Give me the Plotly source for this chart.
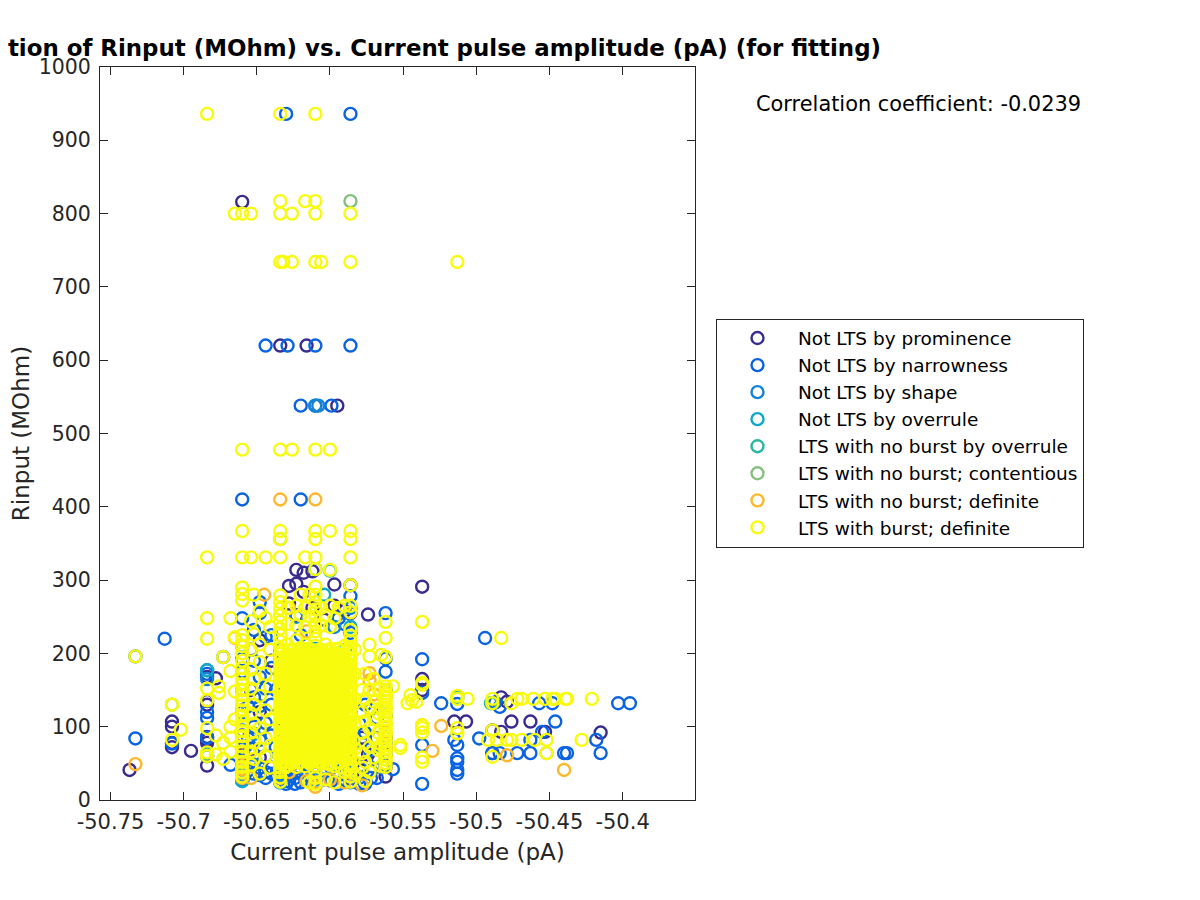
import plotly.graph_objects as go

names = ["Not LTS by prominence", "Not LTS by narrowness", "Not LTS by shape", "Not LTS by overrule",
         "LTS with no burst by overrule", "LTS with no burst; contentious", "LTS with no burst; definite",
         "LTS with burst; definite"]
colors = ["#392c8e", "#0a63e1", "#1484d4", "#0ea9c9", "#2ab7a0", "#85c07f", "#fcb92e", "#f9fb0e"]

# each entry: (current pulse amplitude, [input resistances])
prominence = [
    (-50.737, [41]), (-50.708, [107, 100, 78, 72]), (-50.695, [67]),
    (-50.684, [168, 135, 130, 86, 82, 78, 60, 47]), (-50.678, [166]),
    (-50.660, [816, 122, 88, 62, 36]), (-50.654, [205, 150, 70]), (-50.648, [218, 120, 58]),
    (-50.640, [190, 44]), (-50.634, [620, 160, 95, 30]), (-50.628, [292, 268]),
    (-50.623, [314, 295, 252]), (-50.618, [310, 284]), (-50.616, [620]), (-50.612, [312, 262]),
    (-50.604, [246]), (-50.597, [294, 265]), (-50.595, [538]), (-50.590, [258]),
    (-50.586, [293, 255, 120, 80, 30]), (-50.578, [85, 40]), (-50.574, [253, 62]),
    (-50.562, [150, 85, 70, 45, 32]), (-50.537, [291, 165, 150]),
    (-50.515, [107]), (-50.507, [107]), (-50.489, [95, 64]), (-50.483, [140, 93]), (-50.479, [134]),
    (-50.476, [107]), (-50.463, [107]), (-50.453, [93]), (-50.415, [92]),
]
narrowness = [
    (-50.733, [196, 84]), (-50.713, [220]), (-50.708, [77]), (-50.684, [172, 120, 112, 85]),
    (-50.673, [195]), (-50.668, [48]),
    (-50.660, [410, 248, 210, 192, 175, 150, 120, 95, 70, 50, 34, 26]),
    (-50.656, [128, 84, 40]),
    (-50.652, [232, 190, 140, 100, 62, 36]), (-50.648, [270, 255, 168, 128, 82, 44, 34]),
    (-50.644, [620, 222, 152, 105, 60, 38, 30]), (-50.640, [225, 180, 130, 88, 36]),
    (-50.637, [150, 72, 34]),
    (-50.634, [204, 190, 40, 30, 24]), (-50.630, [936, 34, 22]), (-50.629, [620, 36, 26]), (-50.624, [42, 30, 22]),
    (-50.620, [538, 410, 225, 38, 24]), (-50.615, [200, 48, 34]), (-50.610, [620, 538, 36, 24]),
    (-50.604, [40, 28]), (-50.599, [538, 44, 26]), (-50.594, [248, 34, 22]),
    (-50.590, [240, 46, 28]), (-50.586, [936, 620, 278, 228, 120, 70, 36, 24]),
    (-50.580, [105, 64, 46, 30, 22]), (-50.576, [130, 92, 78, 22]), (-50.572, [124, 70, 40, 30]),
    (-50.568, [112, 84, 58, 30]), (-50.562, [255, 193, 175, 115, 78, 62, 48]),
    (-50.557, [42]), (-50.537, [192, 146, 75, 22]), (-50.524, [132]),
    (-50.515, [82]), (-50.513, [131, 75, 57, 52, 41, 36]), (-50.498, [84]), (-50.494, [221]),
    (-50.489, [64]), (-50.487, [133]), (-50.484, [127, 64]), (-50.472, [64]), (-50.463, [82, 64]),
    (-50.457, [132]), (-50.455, [93]), (-50.448, [132]), (-50.446, [107]),
    (-50.440, [64]), (-50.438, [64]), (-50.418, [82]), (-50.415, [64]), (-50.403, [132]), (-50.395, [132]),
]
shape = [
    (-50.684, [177, 165]), (-50.660, [28, 44, 66]), (-50.652, [48, 90]), (-50.634, [34, 44]),
    (-50.610, [538, 28]), (-50.608, [538]), (-50.623, [250]), (-50.597, [236]), (-50.586, [262, 44]),
]
overrule = [
    (-50.684, [177]), (-50.660, [26]), (-50.634, [24, 30]), (-50.610, [315, 206]), (-50.600, [313]),
    (-50.604, [280]), (-50.590, [205]), (-50.586, [236]), (-50.513, [140]),
]
nb_overrule = [(-50.490, [132]), (-50.660, [32]), (-50.684, [62])]
contentious = [
    (-50.586, [817]), (-50.634, [356]), (-50.684, [60]), (-50.708, [130]), (-50.452, [64]),
    (-50.660, [36]),
]
nb_definite = [
    (-50.733, [49]), (-50.665, [221]), (-50.660, [64, 42, 30]), (-50.654, [30]), (-50.645, [280]),
    (-50.634, [410, 30]), (-50.628, [38, 262]), (-50.616, [26, 230]), (-50.610, [410, 18, 24]),
    (-50.600, [28]), (-50.590, [24]), (-50.578, [20]), (-50.573, [173, 163]), (-50.570, [144]),
    (-50.562, [140, 125, 105, 92, 70, 60]), (-50.537, [102]), (-50.530, [67]), (-50.524, [101]),
    (-50.479, [61]), (-50.440, [41]),
]
burst = [
    (-50.733, [196]), (-50.708, [130, 82]), (-50.702, [96]),
    (-50.684, [936, 331, 248, 220, 152, 136, 98, 65, 60]), (-50.678, [88, 62]), (-50.676, [155, 146]),
    (-50.673, [195, 78, 56]), (-50.668, [248, 176, 100, 85, 66]), (-50.665, [800, 222, 148, 110]),
    (-50.660, [800, 478, 367, 331, 290, 281, 272, 225, 218, 210, 200, 190, 180, 172, 165, 158, 150,
               143, 136, 129, 122, 115, 108, 101, 94, 87, 80, 73, 66, 59, 52, 45, 38, 32]),
    (-50.654, [800, 331, 244, 205, 178, 152, 118, 92, 66, 48]), (-50.652, [280, 226, 165, 130, 104, 78, 56]),
    (-50.648, [258, 212, 188, 142, 98, 70, 36]), (-50.644, [331, 248, 172, 122, 84, 60]),
    (-50.641, [236, 205, 155, 110, 74, 44]),
    (-50.634, [936, 817, 800, 734, 478, 367, 356, 331, 279, 270, 261, 252, 243, 234, 225, 216, 207, 199,
               191, 183, 176, 169, 162, 155, 148, 141, 134, 127, 120, 113, 106, 99, 92, 85, 78, 71, 64,
               57, 50, 44, 38, 31, 25]),
    (-50.632, [734, 205, 188, 171, 153, 136, 119, 102, 85, 69, 53]),
    (-50.6305, [197, 180, 162, 145, 127, 110, 93, 77, 61, 47]),
    (-50.629, [262, 240, 212, 196, 178, 162, 145, 128, 111, 94, 77, 60, 46]),
    (-50.6275, [204, 187, 170, 153, 136, 119, 102, 85, 68, 52]),
    (-50.626, [800, 734, 478, 205, 186, 170, 152, 134, 118, 101, 84, 68, 50]),
    (-50.6245, [196, 178, 161, 143, 126, 109, 92, 76, 59]),
    (-50.623, [265, 238, 218, 197, 180, 163, 144, 127, 110, 93, 76, 59, 45]),
    (-50.6215, [206, 188, 171, 153, 136, 118, 102, 85, 67, 51]),
    (-50.620, [280, 252, 207, 190, 172, 155, 137, 120, 103, 86, 69, 52]),
    (-50.6185, [198, 180, 163, 146, 128, 111, 94, 77, 60]),
    (-50.617, [817, 331, 262, 236, 212, 198, 181, 164, 146, 129, 112, 95, 78, 61, 46]),
    (-50.6155, [206, 189, 172, 155, 137, 120, 103, 86, 69, 53]),
    (-50.614, [280, 250, 205, 188, 170, 153, 136, 118, 102, 85, 68, 50, 24]),
    (-50.612, [196, 179, 161, 144, 127, 110, 93, 76, 59]),
    (-50.610, [936, 817, 800, 734, 478, 367, 356, 331, 315, 291, 280, 270, 260, 250, 240, 230, 220, 210,
               200, 192, 183, 175, 166, 158, 149, 141, 132, 124, 115, 107, 98, 90, 81, 73, 64, 56, 47,
               39, 30, 22]),
    (-50.608, [203, 186, 169, 152, 135, 118, 101, 84, 67, 52]),
    (-50.606, [734, 262, 238, 205, 187, 169, 152, 135, 117, 100, 83, 66, 50]),
    (-50.6045, [196, 178, 161, 144, 127, 109, 92, 75, 58]),
    (-50.603, [252, 212, 196, 178, 161, 144, 126, 109, 92, 75, 58, 28]),
    (-50.6015, [204, 187, 170, 153, 136, 118, 101, 84, 67, 50]),
    (-50.600, [478, 367, 314, 265, 236, 206, 188, 170, 153, 136, 119, 101, 84, 67, 48]),
    (-50.5985, [197, 179, 162, 145, 128, 110, 93, 76, 59]),
    (-50.597, [248, 198, 181, 164, 146, 129, 112, 95, 78, 61, 46, 24]),
    (-50.5955, [206, 189, 172, 155, 138, 120, 103, 86, 69, 52]),
    (-50.594, [262, 206, 189, 172, 154, 137, 120, 103, 86, 69, 52]),
    (-50.592, [198, 180, 163, 146, 128, 111, 94, 77, 60, 44]),
    (-50.590, [265, 210, 192, 176, 158, 141, 124, 106, 89, 72, 55, 38]),
    (-50.588, [204, 186, 168, 150, 132, 114, 96, 78, 60, 42]),
    (-50.586, [800, 734, 367, 356, 331, 293, 265, 256, 232, 224, 216, 208, 200, 192, 184, 176, 168,
               160, 152, 144, 136, 128, 120, 112, 104, 96, 88, 80, 72, 64, 56, 48, 40, 32, 25]),
    (-50.583, [205, 172, 138, 104, 70, 36]),
    (-50.578, [150, 120, 92, 64, 44]), (-50.576, [172, 138, 108, 78, 52, 26]),
    (-50.573, [212, 196, 150, 126, 98, 72, 38]), (-50.570, [165, 134, 110, 84, 58]),
    (-50.567, [152, 118, 92, 68]), (-50.565, [198, 126, 76, 46]),
    (-50.562, [243, 221, 195, 155, 150, 145, 140, 135, 130, 125, 120, 115, 110, 105, 100, 95, 90, 85,
               80, 75, 70, 65, 60, 55, 50, 45]),
    (-50.557, [155]), (-50.552, [75, 71]), (-50.547, [132]), (-50.545, [143]), (-50.544, [136]),
    (-50.541, [134]), (-50.537, [243, 160, 157, 102, 98, 92, 58, 52]),
    (-50.513, [734, 142, 138, 98, 91]), (-50.506, [138]), (-50.492, [82]), (-50.489, [138, 132, 95, 59]),
    (-50.486, [82]), (-50.483, [221]), (-50.479, [82]), (-50.476, [132, 82]), (-50.472, [138]),
    (-50.469, [138, 82]), (-50.461, [138]), (-50.460, [82]), (-50.453, [138]), (-50.452, [82, 64]),
    (-50.448, [138]), (-50.446, [138]), (-50.439, [138]), (-50.438, [138]), (-50.428, [82]), (-50.421, [138]),
    # the dense core, second pass
    (-50.6330, [193, 185, 178, 170, 163, 155, 147, 139, 131, 124, 116, 108, 100, 92, 84, 76, 68, 60, 52]),
    (-50.6295, [192, 184, 176, 168, 160, 152, 144, 136, 128, 120, 112, 104, 96, 88, 80, 72, 64, 56]),
    (-50.6262, [203, 195, 187, 179, 172, 164, 156, 148, 140, 132, 124, 116, 108, 100, 92, 84, 76, 68, 60]),
    (-50.6230, [201, 193, 185, 177, 169, 161, 153, 146, 138, 130, 122, 114, 106, 98, 90, 82, 74, 66, 58]),
    (-50.6198, [204, 196, 188, 180, 172, 164, 156, 148, 140, 132, 124, 116, 108, 100, 92, 84, 76, 68, 60]),
    (-50.6165, [200, 192, 184, 176, 168, 160, 152, 144, 136, 128, 120, 112, 104, 96, 88, 80, 72, 64, 56]),
    (-50.6132, [203, 195, 187, 179, 171, 163, 155, 147, 139, 131, 123, 115, 107, 99, 91, 83, 75, 67, 59, 51]),
    (-50.6100, [199, 191, 183, 175, 167, 159, 151, 143, 135, 127, 119, 111, 103, 95, 87, 79, 71, 63, 55]),
    (-50.6068, [202, 194, 186, 178, 170, 162, 154, 146, 138, 130, 122, 114, 106, 98, 90, 82, 74, 66, 58]),
    (-50.6035, [200, 192, 184, 176, 168, 160, 152, 144, 136, 128, 120, 112, 104, 96, 88, 80, 72, 64, 56]),
    (-50.6002, [203, 195, 187, 179, 171, 163, 155, 147, 139, 131, 123, 115, 107, 99, 91, 83, 75, 67, 59]),
    (-50.5970, [201, 193, 185, 177, 169, 161, 153, 145, 137, 129, 121, 113, 105, 97, 89, 81, 73, 65, 57]),
    (-50.5938, [196, 188, 180, 172, 164, 156, 148, 140, 132, 124, 116, 108, 100, 92, 84, 76, 68, 60]),
    (-50.5905, [192, 184, 176, 168, 160, 152, 144, 136, 128, 120, 112, 104, 96, 88, 80, 72, 64, 56]),
    (-50.5872, [194, 186, 178, 170, 162, 154, 146, 138, 130, 122, 114, 106, 98, 90, 82, 74, 66, 58, 50]),
]
series_values = [prominence, narrowness, shape, overrule, nb_overrule, contentious, nb_definite, burst]

x_ticks = [-50.75, -50.7, -50.65, -50.6, -50.55, -50.5, -50.45, -50.4]
x_labels = ["-50.75", "-50.7", "-50.65", "-50.6", "-50.55", "-50.5", "-50.45", "-50.4"]
y_ticks = [0, 100, 200, 300, 400, 500, 600, 700, 800, 900, 1000]

FONT = "DejaVu Sans"
INK = "#262626"

fig = go.Figure()
for name, color, columns in zip(names, colors, series_values):
    xs = [c[0] for c in columns for _ in c[1]]
    ys = [v for c in columns for v in c[1]]
    fig.add_trace(go.Scatter(x=xs, y=ys, mode="markers", name=name,
                             marker=dict(symbol="circle-open", size=12, color=color, line=dict(width=2.4, color=color))))

axis_common = dict(showgrid=False, zeroline=False, showline=True, linecolor=INK, linewidth=1, automargin=False,
                   mirror="allticks", ticks="inside", ticklen=8, tickcolor=INK, tickwidth=1)
fig.update_xaxes(range=[-50.7572, -50.3505], tickmode="array", tickvals=x_ticks, ticktext=x_labels,
                 tickfont=dict(family=FONT, size=21, color=INK), ticklabelstandoff=3,
                 title=dict(text="Current pulse amplitude (pA)", font=dict(family=FONT, size=23, color=INK), standoff=10),
                 **axis_common)
fig.update_yaxes(range=[0, 1000], tickmode="array", tickvals=y_ticks,
                 tickfont=dict(family=FONT, size=20.5, color=INK), ticklabelstandoff=4,
                 title=dict(text="Rinput (MOhm)", font=dict(family=FONT, size=23, color=INK), standoff=10),
                 **axis_common)
fig.update_layout(
    width=1200, height=900, plot_bgcolor="white", paper_bgcolor="white",
    margin=dict(l=92, r=513, t=59, b=108),
    font=dict(family=FONT, color=INK),
    title=dict(text="<b>Correlation of Rinput (MOhm) vs. Current pulse amplitude (pA) (for fitting)</b>",
               font=dict(family=FONT, size=22.9, color="black"), x=389.5 / 1200, xanchor="center",
               y=1 - 40 / 900, yanchor="middle"),
    legend=dict(x=(716 - 100) / 595, y=(800 - 433) / 733, xanchor="left", yanchor="middle", bordercolor=INK, borderwidth=1,
                bgcolor="white", font=dict(family=FONT, size=18.5, color="black"), itemwidth=71,
                traceorder="normal"),
    annotations=[dict(text="Correlation coefficient: -0.0239", xref="paper", yref="paper",
                      x=(918 - 100) / 595, y=(800 - 104) / 733, xanchor="center", yanchor="middle",
                      showarrow=False, font=dict(family=FONT, size=20.9, color="black"))],
)
fig.write_html("out.html")
